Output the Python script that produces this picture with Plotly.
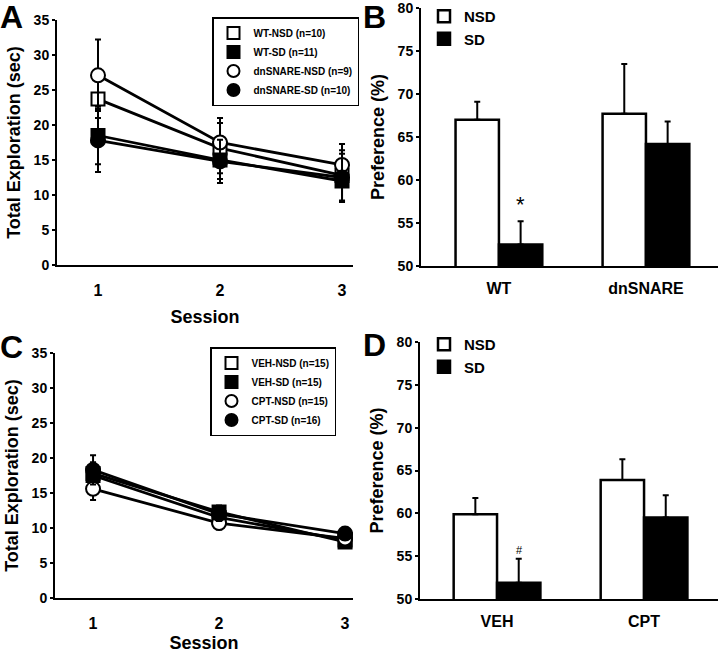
import plotly.graph_objects as go

# ---------------- data ----------------
sessions = [1, 2, 3]

# Panel A
wt_nsd = [23.7, 16.7, 12.8]
wt_nsd_err = [2.7, 3.6, 3.6]
wt_sd = [18.5, 15.0, 12.0]
wt_sd_err = [4.1, 2.7, 3.0]
dn_nsd = [27.1, 17.5, 14.3]
dn_nsd_err = [5.1, 3.5, 3.0]
dn_sd = [17.8, 14.8, 12.5]
dn_sd_err = [4.5, 3.1, 3.4]

# Panel C
veh_nsd = [17.5, 11.5, 8.3]
veh_nsd_err = [1.5, 1.0, 0.8]
veh_sd = [17.8, 12.3, 8.0]
veh_sd_err = [1.6, 0.9, 0.8]
cpt_nsd = [15.6, 10.7, 8.5]
cpt_nsd_err = [1.6, 0.9, 0.8]
cpt_sd = [18.3, 12.0, 9.2]
cpt_sd_err = [2.1, 1.0, 0.8]

# Panel B
groups_b = ["WT", "dnSNARE"]
pref_b_nsd = [67.0, 67.7]
pref_b_nsd_err = [2.1, 5.8]
pref_b_sd = [52.5, 64.2]
pref_b_sd_err = [2.7, 2.6]

# Panel D
groups_d = ["VEH", "CPT"]
pref_d_nsd = [59.9, 63.9]
pref_d_nsd_err = [1.9, 2.4]
pref_d_sd = [51.9, 59.5]
pref_d_sd_err = [2.8, 2.6]

pref_ticks = [50, 55, 60, 65, 70, 75, 80]
expl_ticks = [0, 5, 10, 15, 20, 25, 30, 35]

FONT = "Liberation Sans, Arial, sans-serif"
W, H = 720, 653


def px(x):
    return x / W


def py(y):
    return 1 - y / H


fig = go.Figure()

open_sq = dict(symbol="square", color="white", size=13, line=dict(color="black", width=2))
fill_sq = dict(symbol="square", color="black", size=13, line=dict(color="black", width=2))
open_ci = dict(symbol="circle", color="white", size=14, line=dict(color="black", width=2))
fill_ci = dict(symbol="circle", color="black", size=14, line=dict(color="black", width=2))


def add_line_panel(series, xa, ya, legend):
    for name, vals, errs, mk in series:
        fig.add_trace(go.Scatter(x=sessions, y=vals, mode="lines",
                                 line=dict(color="black", width=2.8),
                                 showlegend=False, hoverinfo="skip",
                                 xaxis=xa, yaxis=ya))
    for name, vals, errs, mk in series:
        fig.add_trace(go.Scatter(x=sessions, y=vals, mode="markers", name=name,
                                 marker=mk,
                                 error_y=dict(type="data", array=errs, visible=True,
                                              color="black", thickness=2, width=3),
                                 legend=legend, xaxis=xa, yaxis=ya))


add_line_panel([
    ("WT-NSD (n=10)", wt_nsd, wt_nsd_err, open_sq),
    ("WT-SD (n=11)", wt_sd, wt_sd_err, fill_sq),
    ("dnSNARE-NSD (n=9)", dn_nsd, dn_nsd_err, open_ci),
    ("dnSNARE-SD (n=10)", dn_sd, dn_sd_err, fill_ci),
], "x", "y", "legend")

add_line_panel([
    ("VEH-NSD (n=15)", veh_nsd, veh_nsd_err, open_sq),
    ("VEH-SD (n=15)", veh_sd, veh_sd_err, fill_sq),
    ("CPT-NSD (n=15)", cpt_nsd, cpt_nsd_err, open_ci),
    ("CPT-SD (n=16)", cpt_sd, cpt_sd_err, fill_ci),
], "x3", "y3", "legend2")


def add_bar_panel(groups, nsd, nsd_err, sd, sd_err, xa, ya, legend):
    fig.add_trace(go.Bar(x=groups, y=nsd, name="NSD",
                         marker=dict(color="white", line=dict(color="black", width=2.5)),
                         error_y=dict(type="data", array=nsd_err, arrayminus=[0] * len(nsd_err),
                                      symmetric=False, color="black", thickness=2, width=3),
                         legend=legend, xaxis=xa, yaxis=ya))
    fig.add_trace(go.Bar(x=groups, y=sd, name="SD",
                         marker=dict(color="black", line=dict(color="black", width=2.5)),
                         error_y=dict(type="data", array=sd_err, arrayminus=[0] * len(sd_err),
                                      symmetric=False, color="black", thickness=2, width=3),
                         legend=legend, xaxis=xa, yaxis=ya))


add_bar_panel(groups_b, pref_b_nsd, pref_b_nsd_err, pref_b_sd, pref_b_sd_err, "x2", "y2", "legend3")
add_bar_panel(groups_d, pref_d_nsd, pref_d_nsd_err, pref_d_sd, pref_d_sd_err, "x4", "y4", "legend4")

tickfont = dict(family=FONT, size=14, color="black", weight="bold")
titlefont = dict(family=FONT, size=18, color="black", weight="bold")
xtickfont = dict(family=FONT, size=16, color="black", weight="bold")

common = dict(showline=True, linecolor="black", linewidth=2, showgrid=False, zeroline=False,
              automargin=False, ticklabeloverflow="allow")
line_x = dict(common, ticks="", tickfont=xtickfont, ticklabelstandoff=10,
              tickvals=sessions, ticktext=[str(s) for s in sessions])
line_y = dict(common, ticks="outside", ticklen=3, tickwidth=2, tickcolor="black", tickfont=tickfont,
              range=[0, 35], tickvals=expl_ticks,
              title=dict(text="Total Exploration (sec)", font=titlefont, standoff=8))
bar_x = dict(common, ticks="", type="category", ticklabelstandoff=7, tickfont=xtickfont)
bar_y = dict(common, ticks="outside", ticklen=3, tickwidth=2, tickcolor="black", tickfont=tickfont,
             range=[50, 80], tickvals=pref_ticks,
             title=dict(text="Preference (%)", font=titlefont, standoff=8))

legend_small = dict(family=FONT, size=10, color="black", weight="bold")
legend_big = dict(family=FONT, size=15, color="black", weight="bold")

fig.update_layout(
    template="none",
    width=W, height=H,
    margin=dict(l=0, r=0, t=0, b=0, autoexpand=False),
    paper_bgcolor="white", plot_bgcolor="white",
    barmode="group", bargap=0.41, bargroupgap=0,
    showlegend=True,
    xaxis=dict(line_x, domain=[px(57), px(353)], range=[0.664, 3.09],
               title=dict(text="Session", font=titlefont, standoff=12), anchor="y"),
    yaxis=dict(line_y, domain=[py(265), py(20)], anchor="x"),
    xaxis2=dict(bar_x, domain=[px(421), px(718)], range=[-0.53, 1.49], anchor="y2"),
    yaxis2=dict(bar_y, domain=[py(266), py(8)], anchor="x2"),
    xaxis3=dict(line_x, domain=[px(55), px(353)], range=[0.698, 3.063],
                title=dict(text="Session", font=titlefont, standoff=6), anchor="y3"),
    yaxis3=dict(line_y, domain=[py(598), py(353)], anchor="x3"),
    xaxis4=dict(bar_x, domain=[px(420), px(718)], range=[-0.524, 1.503], anchor="y4"),
    yaxis4=dict(bar_y, domain=[py(599), py(342)], anchor="x4"),
    legend=dict(x=px(212), y=py(17), xanchor="left", yanchor="top",
                bordercolor="black", borderwidth=1.5, bgcolor="white",
                font=legend_small, itemsizing="constant", tracegroupgap=0),
    legend2=dict(x=px(210), y=py(347), xanchor="left", yanchor="top",
                 bordercolor="black", borderwidth=1.5, bgcolor="white",
                 font=legend_small, itemsizing="constant", tracegroupgap=0),
    legend3=dict(x=px(424), y=py(0), xanchor="left", yanchor="top",
                 borderwidth=0, bgcolor="rgba(0,0,0,0)", font=legend_big),
    legend4=dict(x=px(424), y=py(328), xanchor="left", yanchor="top",
                 borderwidth=0, bgcolor="rgba(0,0,0,0)", font=legend_big),
)

letter = dict(family=FONT, size=32, color="black", weight="bold")
for txt, x, y in [("A", -2, -3), ("B", 361, -3), ("C", -2, 327), ("D", 361, 325)]:
    fig.add_annotation(text=txt, xref="paper", yref="paper", x=px(x), y=py(y),
                       xanchor="left", yanchor="top", showarrow=False, font=letter)

# significance marks above SD bars
fig.add_annotation(text="*", xref="x2", yref="y2", x="WT", y=pref_b_sd[0] + pref_b_sd_err[0],
                   xshift=22, yshift=2, yanchor="bottom", showarrow=False,
                   font=dict(family=FONT, size=22, color="black"))
fig.add_annotation(text="#", xref="x4", yref="y4", x="VEH", y=pref_d_sd[0] + pref_d_sd_err[0],
                   xshift=22, yshift=1, yanchor="bottom", showarrow=False,
                   font=dict(family=FONT, size=11, color="black"))

fig.write_html("out.html", config={"displayModeBar": False},
               post_script="document.body.style.margin='0px';")
